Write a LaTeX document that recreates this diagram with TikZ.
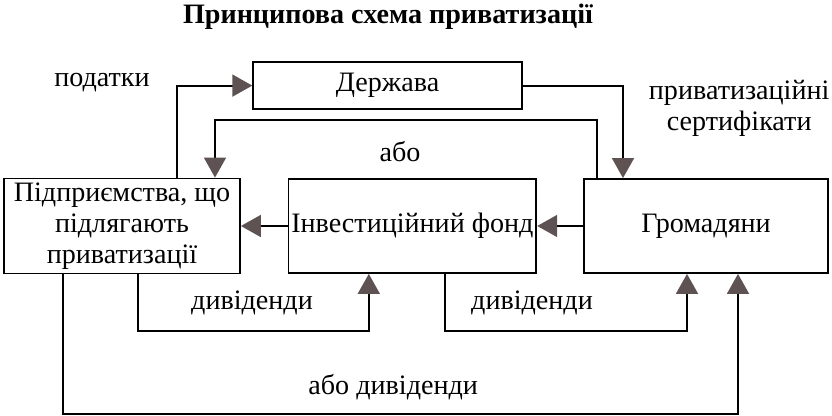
\documentclass[tikz,border=0pt]{standalone}
\usepackage{fontspec}
\setmainfont{Liberation Serif}
\usepackage{tikz}
\usepackage{xcolor}
\usetikzlibrary{
    arrows.meta,
    positioning
}
\definecolor{tipgray}{RGB}{95,82,82}

\begin{document}
\begin{tikzpicture}[font=\fontsize{20}{22}\selectfont, line width=1.3pt,
        box/.style={draw, minimum height=2.35cm, align=center, inner sep=2pt},
        flow/.style={-{Triangle[length=0.5cm, width=0.55cm, color=tipgray]}}]
            \useasboundingbox (0, 0) rectangle (20.8, 10.4);
            \node[font=\fontsize{20}{22}\selectfont\bfseries] (title) at (9.7, 9.98) {Принципова схема приватизації};

            \node[draw, minimum width=6.72cm, minimum height=1.18cm] (derzh) at (9.69, 8.26) {Держава};
            \node[box, minimum width=5.9cm, minimum height=2.375cm] (pidp) at (3.05, 4.75) {Підприємства, що\\ підлягають\\ приватизації};
            \node[box, minimum width=6.075cm] (inv) at (10.31, 4.75) {Інвестиційний фонд};
            \node[box, minimum width=6.1cm] (grom) at (17.65, 4.75) {Громадяни};

            \draw[flow] ([xshift=1.375cm]pidp.north) |- (derzh.west);
            \draw[flow] (derzh.east) -| ([xshift=-2.075cm]grom.north);
            \draw[flow] ([xshift=-2.725cm]grom.north) -- ++(0, 1.45) -| ([xshift=2.325cm]pidp.north);
            \draw[flow] (inv.west) -- (pidp.east);
            \draw[flow] (grom.west) -- (inv.east);
            \draw[flow] ([xshift=0.4cm]pidp.south) -- ++(0, -1.425) -| ([xshift=-1.09cm]inv.south);
            \draw[flow] ([xshift=0.81cm]inv.south) -- ++(0, -1.425) -| ([xshift=-0.475cm]grom.south);
            \draw[flow] ([xshift=-1.475cm]pidp.south) -- ++(0, -3.5) -| ([xshift=0.8cm]grom.south);

            \node (podatky) at (2.55, 8.33) {податки};
            \node[align=center] (sert) at (18.48, 7.68) {приватизаційні\\ сертифікати};
            \node (abo) at (10.0, 6.6) {або};
            \node (div1) at (6.3, 2.83) {дивіденди};
            \node (div2) at (13.3, 2.83) {дивіденди};
            \node (abodiv) at (9.83, 0.73) {або дивіденди};
        \end{tikzpicture}
\end{document}
